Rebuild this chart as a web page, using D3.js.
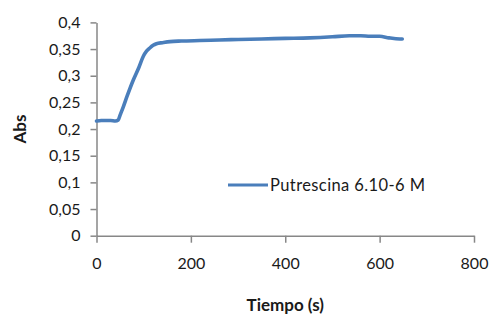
<!DOCTYPE html>
<html>
<head>
<meta charset="utf-8">
<script src="https://cdn.jsdelivr.net/npm/d3@7"></script>
<style>
  body { margin: 0; background: #fff; }
  svg text { font-family: Lato, "Open Sans", sans-serif; fill: #1a1a1a; }
</style>
</head>
<body>
<div id="chart"></div>
<script>
// Absorbance vs time
const timeS = [0, 10, 20, 30, 40, 46, 50, 57, 65, 78, 90, 99, 106, 113, 120, 127,
  140, 156, 180, 219, 260, 300, 350, 400, 452, 500, 536, 560, 580, 600, 620, 643, 648];
const absValues = [0.215, 0.216, 0.216, 0.216, 0.215, 0.217, 0.226, 0.242, 0.262, 0.292,
  0.316, 0.336, 0.346, 0.352, 0.357, 0.360, 0.362, 0.364, 0.365, 0.366, 0.367, 0.368,
  0.369, 0.370, 0.371, 0.373, 0.375, 0.375, 0.374, 0.374, 0.371, 0.369, 0.369];
const xTicks = [0, 200, 400, 600, 800];
const yTicks = [0, 0.05, 0.1, 0.15, 0.2, 0.25, 0.3, 0.35, 0.4];
const seriesName = "Putrescina 6.10-6 M";

const W = 491, H = 315;
const margin = { left: 96.5, right: 17, top: 22.4, bottom: 79.3 };

const svg = d3.select("#chart").append("svg")
  .attr("width", W)
  .attr("height", H);

const x = d3.scaleLinear().domain([0, 800]).range([margin.left, W - margin.right]);
const y = d3.scaleLinear().domain([0, 0.4]).range([H - margin.bottom, margin.top]);

const fmt = d => String(+d.toFixed(2)).replace(".", ",");

// y axis
const yAxis = svg.append("g")
  .attr("transform", `translate(${margin.left},0)`)
  .call(d3.axisLeft(y).tickValues(yTicks).tickFormat(fmt).tickSize(6).tickSizeOuter(0));

// x axis
const xAxis = svg.append("g")
  .attr("transform", `translate(0,${y(0)})`)
  .call(d3.axisBottom(x).tickValues(xTicks).tickFormat(d3.format("d")).tickSize(7).tickSizeOuter(0));

[yAxis, xAxis].forEach(g => {
  g.select(".domain").attr("stroke", "#878787").attr("stroke-width", 1.5);
  g.selectAll(".tick line").attr("stroke", "#878787").attr("stroke-width", 1.5);
  g.selectAll(".tick text").attr("font-size", 16).style("fill", "#1a1a1a");
});
yAxis.selectAll(".tick text").attr("x", -16);
xAxis.selectAll(".tick text").attr("y", 22);

// series line
const line = d3.line()
  .x((d, i) => x(timeS[i]))
  .y(d => y(d))
  .curve(d3.curveMonotoneX);

svg.append("path")
  .datum(absValues)
  .attr("fill", "none")
  .attr("stroke", "#4a7ebb")
  .attr("stroke-width", 3.6)
  .attr("stroke-linejoin", "round")
  .attr("stroke-linecap", "round")
  .attr("d", line);

// legend
const legend = svg.append("g").attr("transform", "translate(228,185)");
legend.append("line")
  .attr("x1", 0).attr("x2", 40)
  .attr("stroke", "#4a7ebb").attr("stroke-width", 2.8);
legend.append("text")
  .attr("x", 42).attr("y", 5.5)
  .attr("font-size", 16.5)
  .attr("letter-spacing", 0.4)
  .text(seriesName);

// axis titles
svg.append("text")
  .attr("x", (x(0) + x(800)) / 2)
  .attr("y", 311)
  .attr("text-anchor", "middle")
  .attr("font-size", 17)
  .attr("font-weight", "bold")
  .text("Tiempo (s)");

svg.append("text")
  .attr("transform", `translate(26,${(y(0) + y(0.4)) / 2}) rotate(-90)`)
  .attr("text-anchor", "middle")
  .attr("font-size", 17)
  .attr("font-weight", "bold")
  .text("Abs");
</script>
</body>
</html>
